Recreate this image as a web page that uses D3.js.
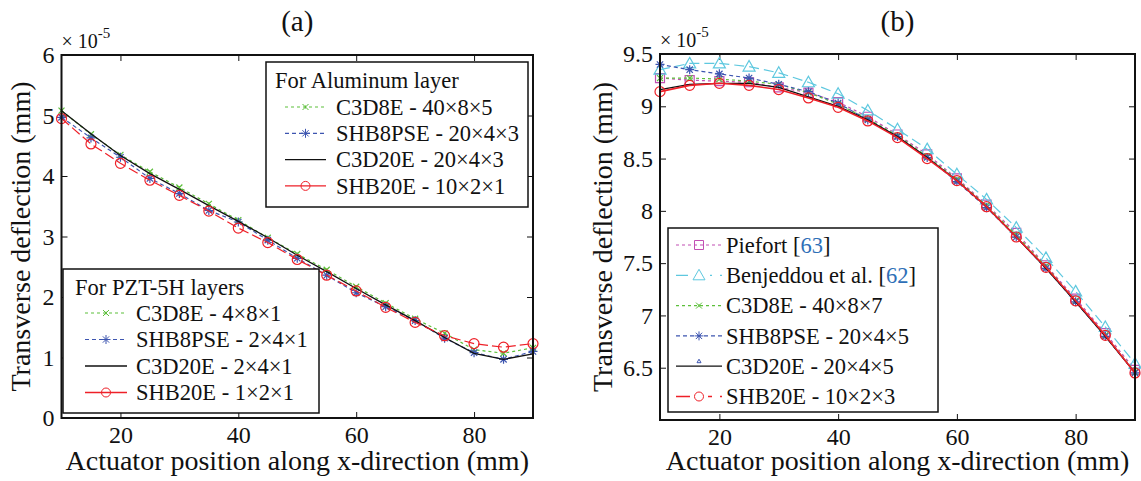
<!DOCTYPE html>
<html><head><meta charset="utf-8">
<script src="https://cdn.jsdelivr.net/npm/d3@7"></script>
<style>body{margin:0;background:#fff;}</style></head>
<body><svg id="chart" width="1141" height="481" font-family="Liberation Serif"></svg>
<script>
// ---------- data ----------
const xPositions = [10,15,20,25,30,35,40,45,50,55,60,65,70,75,80,85,90];
const xTicks = [20,40,60,80];

// Panel (a)
const aYTicks = [0,1,2,3,4,5,6];
const aC3D8E   = [5.08,4.69,4.35,4.07,3.81,3.54,3.27,2.98,2.71,2.45,2.17,1.90,1.64,1.40,1.13,1.07,1.16];
const aSHB8PSE = [4.97,4.63,4.31,3.96,3.71,3.43,3.24,2.94,2.64,2.36,2.07,1.84,1.61,1.32,1.08,0.97,1.10];
const aC3D20E  = [5.08,4.70,4.34,4.04,3.78,3.51,3.25,2.98,2.69,2.42,2.14,1.87,1.61,1.33,1.07,0.97,1.06];
const aSHB20E  = [4.95,4.53,4.21,3.93,3.68,3.42,3.14,2.90,2.62,2.36,2.10,1.83,1.58,1.36,1.23,1.17,1.23];
const aLegendAlTitle = "For Aluminum layer";
const aLegendAlLabels = ["C3D8E - 40×8×5","SHB8PSE - 20×4×3","C3D20E - 20×4×3","SHB20E - 10×2×1"];
const aLegendPztTitle = "For PZT-5H layers";
const aLegendPztLabels = ["C3D8E - 4×8×1","SHB8PSE - 2×4×1","C3D20E - 2×4×1","SHB20E - 1×2×1"];

// Panel (b)
const bYTicks = [6.5,7,7.5,8,8.5,9,9.5];
const bPiefort    = [9.27,9.25,9.24,9.23,9.18,9.13,9.04,8.90,8.73,8.54,8.31,8.06,7.79,7.48,7.16,6.83,6.48];
const bBenjeddou  = [9.35,9.41,9.41,9.38,9.32,9.23,9.12,8.96,8.78,8.59,8.35,8.11,7.84,7.55,7.23,6.89,6.54];
const bC3D8E      = [9.27,9.27,9.26,9.24,9.21,9.13,9.02,8.88,8.72,8.52,8.30,8.05,7.77,7.47,7.14,6.81,6.46];
const bSHB8PSE    = [9.40,9.35,9.31,9.27,9.21,9.14,9.03,8.87,8.71,8.51,8.28,8.03,7.75,7.45,7.13,6.80,6.45];
const bC3D20E     = [9.16,9.21,9.22,9.22,9.18,9.09,9.00,8.87,8.71,8.51,8.29,8.04,7.75,7.45,7.13,6.80,6.45];
const bSHB20E     = [9.14,9.20,9.22,9.20,9.16,9.08,8.99,8.86,8.70,8.50,8.29,8.04,7.75,7.46,7.14,6.81,6.45];
const bLegendNames = ["Piefort ","Benjeddou  et al. ","C3D8E - 40×8×7","SHB8PSE - 20×4×5","C3D20E - 20×4×5","SHB20E - 10×2×3"];
const bLegendRefs  = ["63","62",null,null,null,null];

const xLabel = "Actuator position along x-direction (mm)";
const yLabel = "Transverse deflection (mm)";

// ---------- styles ----------
const FONT = "Liberation Serif";
const C = {green:"#5cbf3a", blue:"#3d55b0", black:"#111", red:"#ee2028", cyan:"#5ec8df", magenta:"#c24fb3", ref:"#2e6fb7"};
const TICK_FS = 24, LEG_FS = 22.5, LABEL_FS = 28;

const svg = d3.select("#chart");

function markerPath(type, s){
  const h = s/2;
  switch(type){
    case "x": return `M${-h},${-h}L${h},${h}M${-h},${h}L${h},${-h}M0,${-h*0.5}L0,${h*0.5}`;
    case "star": return `M${-h},0L${h},0M0,${-h}L0,${h}M${-h*0.7},${-h*0.7}L${h*0.7},${h*0.7}M${-h*0.7},${h*0.7}L${h*0.7},${-h*0.7}`;
    case "circle": return d3.symbol(d3.symbolCircle, Math.PI*h*h)();
    case "square": return `M${-h},${-h}H${h}V${h}H${-h}Z`;
    case "triangle": return `M0,${-h}L${h},${h*0.75}L${-h},${h*0.75}Z`;
    default: return "";
  }
}

function drawPanel(p){
  const g = svg.append("g");
  const x = d3.scaleLinear().domain([10,90]).range([p.left,p.right]);
  const y = d3.scaleLinear().domain(p.ydom).range([p.bottom,p.top]);
  const tl = 6;
  const fixAxis = (a)=>{a.attr("font-family",FONT);a.select(".domain").remove();
    a.selectAll("text").attr("font-size",TICK_FS).attr("font-family",FONT).attr("fill","#111");
    a.selectAll("line").attr("stroke","#111");};
  g.append("g").attr("transform",`translate(0,${p.bottom})`)
    .call(d3.axisBottom(x).tickValues(xTicks).tickSizeInner(-tl).tickSizeOuter(0).tickPadding(8).tickFormat(d3.format("d")))
    .call(fixAxis).call(a=>a.selectAll("text").attr("dy","0.72em"));
  g.append("g").attr("transform",`translate(0,${p.top})`)
    .call(d3.axisTop(x).tickValues(xTicks).tickSizeInner(-tl).tickSizeOuter(0).tickFormat(""))
    .call(fixAxis);
  g.append("g").attr("transform",`translate(${p.left},0)`)
    .call(d3.axisLeft(y).tickValues(p.yticks).tickSizeInner(-tl).tickSizeOuter(0).tickPadding(7).tickFormat(d=>String(d)))
    .call(fixAxis);
  g.append("g").attr("transform",`translate(${p.right},0)`)
    .call(d3.axisRight(y).tickValues(p.yticks).tickSizeInner(-tl).tickSizeOuter(0).tickFormat(""))
    .call(fixAxis);

  const line = d3.line().x((d,i)=>x(xPositions[i])).y(d=>y(d));
  p.series.forEach(s=>{
    g.append("path").attr("d",line(s.values)).attr("fill","none").attr("stroke",s.color)
      .attr("stroke-width",s.lw||1.2).attr("stroke-dasharray",s.dash||null);
    if(s.marker){
      g.selectAll(null).data(s.values).join("path")
        .attr("transform",(d,i)=>`translate(${x(xPositions[i])},${y(d)})`)
        .attr("d",markerPath(s.marker,s.ms)).attr("fill","none").attr("stroke",s.color).attr("stroke-width",1.2);
    }
  });

  g.append("rect").attr("x",p.left).attr("y",p.top).attr("width",p.right-p.left).attr("height",p.bottom-p.top)
    .attr("fill","none").attr("stroke","#111").attr("stroke-width",2);

  const ex = g.append("text").attr("x",p.left).attr("y",p.top-7).attr("font-size",20).attr("font-family",FONT).attr("fill","#111");
  ex.append("tspan").text("× 10");
  ex.append("tspan").attr("dy",-10).attr("font-size",15).text("-5");

  g.append("text").attr("x",(p.left+p.right)/2).attr("y",31).attr("text-anchor","middle").attr("font-size",29)
    .attr("font-family",FONT).attr("fill","#111").text(p.title);
  g.append("text").attr("x",(p.left+p.right)/2).attr("y",470).attr("text-anchor","middle").attr("font-size",LABEL_FS)
    .attr("font-family",FONT).attr("fill","#111").text(xLabel);
  g.append("text").attr("transform",`translate(${p.ylabX},${(p.top+p.bottom)/2}) rotate(-90)`)
    .attr("text-anchor","middle").attr("font-size",LABEL_FS).attr("font-family",FONT).attr("fill","#111").text(yLabel);

  p.legends.forEach(L=>{
    const lg = g.append("g");
    lg.append("rect").attr("x",L.x).attr("y",L.y).attr("width",L.w).attr("height",L.h)
      .attr("fill","#fff").attr("stroke","#111").attr("stroke-width",1.5);
    if(L.title) lg.append("text").attr("x",L.titleX).attr("y",L.titleY).attr("font-size",LEG_FS)
      .attr("font-family",FONT).attr("fill","#111").text(L.title);
    L.items.forEach((it,i)=>{
      const cy = L.firstY + i*L.step;
      lg.append("line").attr("x1",L.lx1).attr("x2",L.lx2).attr("y1",cy).attr("y2",cy)
        .attr("stroke",it.color).attr("stroke-width",it.lw||1.2).attr("stroke-dasharray",it.dash||null);
      if(it.marker){
        if(it.gap){
          lg.append("rect").attr("x",(L.lx1+L.lx2)/2-it.gap).attr("y",cy-3).attr("width",it.gap*2).attr("height",6).attr("fill","#fff");
        }
        const my = it.tiny ? cy-5 : cy;
        lg.append("path").attr("transform",`translate(${(L.lx1+L.lx2)/2},${my})`)
          .attr("d",markerPath(it.marker,it.ms)).attr("fill","none").attr("stroke",it.mcolor||it.color).attr("stroke-width",1);
      }
      const t = lg.append("text").attr("x",L.tx).attr("y",cy).attr("dy","0.35em").attr("font-size",LEG_FS)
        .attr("font-family",FONT).attr("fill","#111");
      t.append("tspan").text(it.label);
      if(it.ref){
        t.append("tspan").text("[");
        t.append("tspan").attr("fill",C.ref).text(it.ref);
        t.append("tspan").text("]");
      }
    });
  });
}

// ---------- panel (a) ----------
const aSeries = [
  {values:aC3D8E, color:C.green, dash:"3,3", marker:"x", ms:6},
  {values:aSHB8PSE, color:C.blue, dash:"4,3", marker:"star", ms:9},
  {values:aC3D20E, color:C.black, lw:1.3},
  {values:aSHB20E, color:C.red, dash:"10,4", marker:"circle", ms:10},
];
const aLegItems = (labels)=>[
  {label:labels[0], color:C.green, dash:"3,3", marker:"x", ms:6},
  {label:labels[1], color:C.blue, dash:"4,3", marker:"star", ms:9},
  {label:labels[2], color:C.black, lw:1.3},
  {label:labels[3], color:C.red, marker:"circle", ms:9, lw:1.3},
];
drawPanel({
  left:61.5, right:533, top:55, bottom:418, ydom:[0,6], yticks:aYTicks, title:"(a)", ylabX:30,
  series:aSeries,
  legends:[
    {x:266,y:62,w:262,h:145,title:aLegendAlTitle,titleX:275,titleY:88,firstY:107,step:26.3,lx1:285,lx2:326,tx:336,items:aLegItems(aLegendAlLabels)},
    {x:63,y:269,w:256,h:144,title:aLegendPztTitle,titleX:75,titleY:295,firstY:313,step:26.5,lx1:85,lx2:127,tx:136,items:aLegItems(aLegendPztLabels)},
  ]
});

// ---------- panel (b) ----------
const bSeries = [
  {values:bPiefort, color:C.magenta, dash:"3,3", marker:"square", ms:9},
  {values:bBenjeddou, color:C.cyan, dash:"10,5", marker:"triangle", ms:12},
  {values:bC3D8E, color:C.green, dash:"3,3", marker:"x", ms:6},
  {values:bSHB8PSE, color:C.blue, dash:"4,3", marker:"star", ms:9},
  {values:bC3D20E, color:C.black, lw:1.3},
  {values:bSHB20E, color:C.red, lw:1.6, marker:"circle", ms:10},
];
const bLegItems = [
  {label:bLegendNames[0], ref:bLegendRefs[0], color:C.magenta, dash:"3,3", marker:"square", ms:9},
  {label:bLegendNames[1], ref:bLegendRefs[1], color:C.cyan, dash:"14,8", marker:"triangle", ms:12, gap:11},
  {label:bLegendNames[2], color:C.green, dash:"3,3", marker:"x", ms:6},
  {label:bLegendNames[3], color:C.blue, dash:"4,3", marker:"star", ms:9},
  {label:bLegendNames[4], color:C.black, lw:1.3, marker:"triangle", ms:4, mcolor:C.blue, tiny:true},
  {label:bLegendNames[5], color:C.red, dash:"14,8", marker:"circle", ms:9, gap:9, lw:1.3},
];
drawPanel({
  left:660, right:1135, top:54, bottom:420, ydom:[6,9.5], yticks:bYTicks, title:"(b)", ylabX:612,
  series:bSeries,
  legends:[
    {x:668,y:228,w:270,h:184,title:null,firstY:245,step:30.3,lx1:676,lx2:722,tx:726,items:bLegItems},
  ]
});
</script></body></html>
